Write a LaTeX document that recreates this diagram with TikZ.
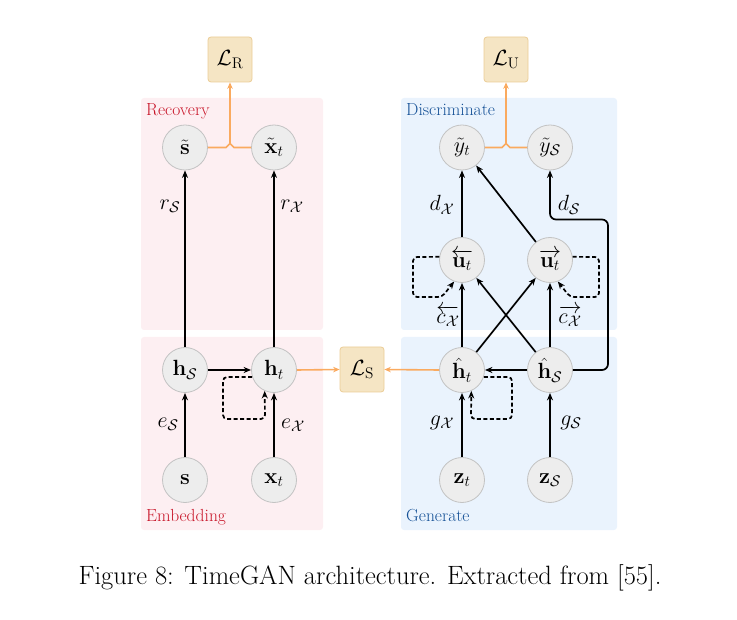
\RequirePackage{fix-cm}
\documentclass[tikz,border=0pt]{standalone}
\usepackage{amsmath}
\usetikzlibrary{arrows.meta}
\definecolor{pinkbg}{RGB}{253,239,242}
\definecolor{bluebg}{RGB}{234,243,253}
\definecolor{redtxt}{RGB}{200,20,40}
\definecolor{bluetxt}{RGB}{20,80,150}
\definecolor{orng}{RGB}{250,170,95}
\definecolor{boxfill}{RGB}{245,229,196}
\definecolor{boxdraw}{RGB}{235,205,150}
\definecolor{circfill}{RGB}{237,237,237}
\definecolor{circdraw}{RGB}{195,195,195}
\tikzset{
 var/.style={circle, draw=circdraw, fill=circfill, line width=0.8pt, minimum size=45pt, inner sep=0pt, font=\fontsize{22}{26}\selectfont},
 loss/.style={rectangle, rounded corners=3pt, draw=boxdraw, fill=boxfill, line width=0.8pt, minimum width=44pt, minimum height=45pt, inner sep=0pt, font=\fontsize{22}{26}\selectfont},
 arr/.style={-{Stealth[length=7.5pt,width=6pt]}, line width=1.7pt},
 oarr/.style={-{Stealth[length=6.5pt,width=5.5pt]}, draw=orng, line width=1.6pt},
 oline/.style={draw=orng, line width=1.6pt},
 loopline/.style={arr, dash pattern=on 4pt off 2.5pt, rounded corners=4pt},
 elab/.style={font=\fontsize{22}{26}\selectfont, inner sep=0pt},
 panlab/.style={font=\fontsize{17.5}{21}\selectfont, anchor=base west, inner sep=0pt},
 panel/.style={rounded corners=3pt},
}
\begin{document}
\begin{tikzpicture}[x=1pt,y=-1pt]
\useasboundingbox (0,0) rectangle (737,620);
% panels
\fill[pinkbg, panel] (141,98) rectangle (323,330);
\fill[pinkbg, panel] (141,337) rectangle (323,530);
\fill[bluebg, panel] (401,98) rectangle (617,330);
\fill[bluebg, panel] (401,337) rectangle (617,530);
\node[panlab, text=redtxt] (recl) at (146,115.5) {Recovery};
\node[panlab, text=redtxt] (embl) at (146,521.5) {Embedding};
\node[panlab, text=bluetxt] (disl) at (406,115.5) {Discriminate};
\node[panlab, text=bluetxt] (genl) at (406,521.5) {Generate};
% loss boxes
\node[loss] (LR) at (230,59.5) {$\mathcal{L}_{\mathrm{R}}$};
\node[loss] (LU) at (506,59.5) {$\mathcal{L}_{\mathrm{U}}$};
\node[loss] (LS) at (362,369.5) {$\mathcal{L}_{\mathrm{S}}$};
% nodes left
\node[var] (st) at (185,147.5) {$\tilde{\mathbf{s}}$};
\node[var] (xt) at (274,147.5) {$\tilde{\mathbf{x}}_t$};
\node[var] (hS) at (185,370) {$\mathbf{h}_{\mathcal{S}}$};
\node[var] (ht) at (274,370) {$\mathbf{h}_t$};
\node[var] (s) at (185,480) {$\mathbf{s}$};
\node[var] (x) at (274,480) {$\mathbf{x}_t$};
% nodes right
\node[var] (yt) at (462,147.5) {$\tilde{y}_t$};
\node[var] (yS) at (550,147.5) {$\tilde{y}_{\mathcal{S}}$};
\node[var] (ub) at (462,260) {$\overleftarrow{\mathbf{u}_t}$};
\node[var] (uf) at (550,260) {$\overrightarrow{\mathbf{u}_t}$};
\node[var] (hht) at (462,370) {$\hat{\mathbf{h}}_t$};
\node[var] (hhS) at (550,370) {$\hat{\mathbf{h}}_{\mathcal{S}}$};
\node[var] (zt) at (462,480) {$\mathbf{z}_t$};
\node[var] (zS) at (550,480) {$\mathbf{z}_{\mathcal{S}}$};
% orange connectors
\coordinate (jR) at (230,143.5);
\coordinate (jU) at (506,143.5);
\draw[oline] (st.east) -- (226,147.5) -- (jR) -- (234,147.5) -- (xt.west);
\draw[oarr] (jR) -- (LR.south);
\draw[oline] (yt.east) -- (502,147.5) -- (jU) -- (510,147.5) -- (yS.west);
\draw[oarr] (jU) -- (LU.south);
\draw[oarr] (ht.east) -- (LS.west);
\draw[oarr] (hht.west) -- (LS.east);
% left arrows
\draw[arr] (s) -- (hS);
\draw[arr] (x) -- (ht);
\draw[arr] (hS) -- (ht);
\draw[arr] (hS) -- (st);
\draw[arr] (ht) -- (xt);
\draw[loopline] (ht.198) -- (223,377) -- (223,419) -- (265,419) -- (ht.246);
% right arrows
\draw[arr] (zt) -- (hht);
\draw[arr] (zS) -- (hhS);
\draw[arr] (hhS) -- (hht);
\draw[arr] (hht) -- (ub);
\draw[arr] (hht) -- (uf);
\draw[arr] (hhS) -- (ub);
\draw[arr] (hhS) -- (uf);
\draw[arr] (ub) -- (yt);
\draw[arr] (uf) -- (yt);
\draw[arr, rounded corners=6pt] (hhS.east) -- (608,370) -- (608,219.5) -- (550,219.5) -- (yS.south);
\draw[loopline] (hht.342) -- (512,377) -- (512,419) -- (471,419) -- (hht.294);
\draw[loopline] (ub.172) -- (413,257) -- (413,297) -- (442,297) -- (ub.250);
\draw[loopline] (uf.8) -- (599,257) -- (599,297) -- (570,297) -- (uf.290);
% edge labels
\node[elab] (lrS) at (170,206) {$r_{\mathcal{S}}$};
\node[elab] (lrX) at (292,206) {$r_{\mathcal{X}}$};
\node[elab] (leS) at (168,424) {$e_{\mathcal{S}}$};
\node[elab] (leX) at (293,425) {$e_{\mathcal{X}}$};
\node[elab] (ldX) at (442,205) {$d_{\mathcal{X}}$};
\node[elab] (ldS) at (569,205) {$d_{\mathcal{S}}$};
\node[elab] (lgX) at (442,423) {$g_{\mathcal{X}}$};
\node[elab] (lgS) at (571,423) {$g_{\mathcal{S}}$};
\node[elab] (lcb) at (448,316) {$\overleftarrow{c_{\mathcal{X}}}$};
\node[elab] (lcf) at (570,316) {$\overrightarrow{c_{\mathcal{X}}}$};
% caption
\node[font=\fontsize{26.5}{31}\selectfont, inner sep=0pt] (cap) at (370,578) {Figure 8: TimeGAN architecture. Extracted from [55].};
\end{tikzpicture}
\end{document}
